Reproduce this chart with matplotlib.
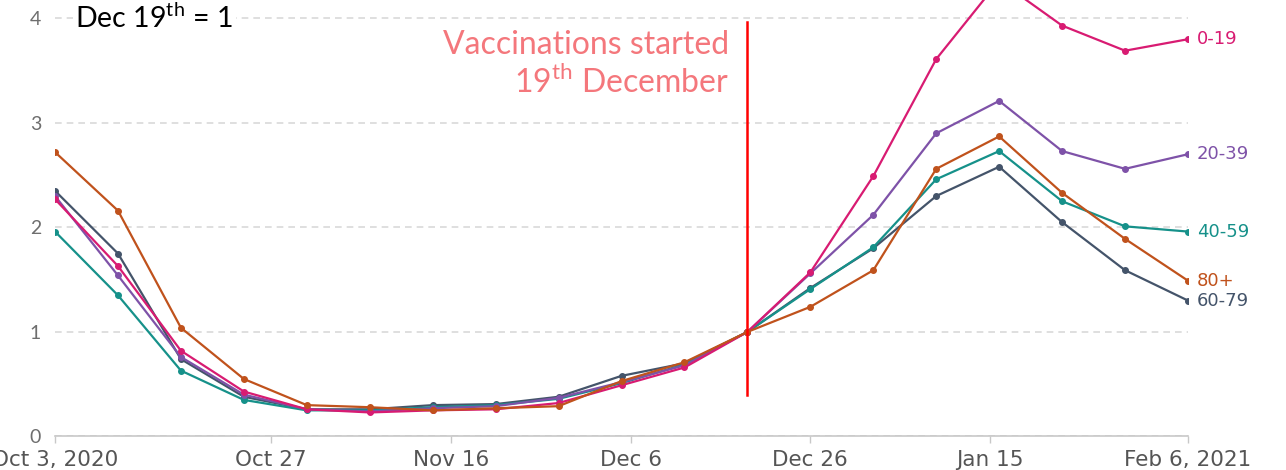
import matplotlib
matplotlib.use("Agg")
import matplotlib.pyplot as plt
import pandas as pd

plt.rcParams['font.family'] = ['Lato', 'DejaVu Sans']
plt.rcParams['mathtext.fontset'] = 'custom'
plt.rcParams['mathtext.rm'] = 'Lato'

# weekly relative cases, Dec 19th = 1
dates = pd.date_range("2020-10-03", "2021-02-06", freq="7D")

age_0_19 = [2.27, 1.63, 0.82, 0.43, 0.26, 0.23, 0.25, 0.26, 0.32, 0.49, 0.66, 1.0,
            1.57, 2.49, 3.61, 4.36, 3.93, 3.69, 3.80]
age_20_39 = [2.30, 1.54, 0.76, 0.40, 0.26, 0.24, 0.27, 0.29, 0.37, 0.52, 0.68, 1.0,
             1.56, 2.12, 2.90, 3.21, 2.73, 2.56, 2.70]
age_40_59 = [1.96, 1.35, 0.63, 0.35, 0.25, 0.25, 0.28, 0.30, 0.36, 0.51, 0.69, 1.0,
             1.41, 1.81, 2.46, 2.73, 2.25, 2.01, 1.96]
age_60_79 = [2.35, 1.75, 0.74, 0.38, 0.26, 0.26, 0.30, 0.31, 0.38, 0.58, 0.70, 1.0,
             1.42, 1.80, 2.30, 2.58, 2.05, 1.59, 1.30]
age_80 = [2.72, 2.16, 1.04, 0.55, 0.30, 0.28, 0.25, 0.27, 0.29, 0.53, 0.71, 1.0,
          1.24, 1.59, 2.56, 2.87, 2.33, 1.89, 1.49]

tick_dates = pd.to_datetime(["2020-10-03", "2020-10-27", "2020-11-16", "2020-12-06",
                             "2020-12-26", "2021-01-15", "2021-02-06"])
tick_labels = ["Oct 3, 2020", "Oct 27", "Nov 16", "Dec 6", "Dec 26", "Jan 15", "Feb 6, 2021"]
vacc_date = pd.Timestamp("2020-12-19")

series = [
    ("60-79", age_60_79, "#44546a"),
    ("40-59", age_40_59, "#16918a"),
    ("20-39", age_20_39, "#7e52a8"),
    ("0-19", age_0_19, "#d81b72"),
    ("80+", age_80, "#c0521c"),
]

fig = plt.figure(figsize=(12.86, 4.70), dpi=100)
ax = fig.add_axes([0.0428, 0.0713, 0.881, 0.9287])

for name, vals, col in series:
    ax.plot(dates, vals, color=col, lw=1.6, marker='o', ms=4, zorder=3)
    ax.text(dates[-1] + pd.Timedelta(days=1), vals[-1], name, color=col,
            fontsize=13, va='center', ha='left', clip_on=False, family='DejaVu Sans')

ax.plot([vacc_date, vacc_date], [0.40, 3.96], color='#ff0000', lw=1.8, zorder=4)

ax.set_xlim(dates[0], dates[-1])
ax.set_ylim(0, 4.175)
ax.set_xticks(tick_dates)
ax.set_xticklabels(tick_labels, family='DejaVu Sans')
ax.set_yticks([0, 1, 2, 3, 4])
ax.grid(axis='y', color='#d9d9d9', ls=(0, (4, 3)), lw=1.2)
ax.set_axisbelow(True)

for s in ['top', 'right', 'left']:
    ax.spines[s].set_visible(False)
ax.spines['bottom'].set_color('#c8c8c8')
ax.spines['bottom'].set_linewidth(1.2)
ax.tick_params(axis='x', colors='#c8c8c8', length=5, width=1, labelsize=15.5,
               labelcolor='#555555', pad=5)
ax.tick_params(axis='y', length=0, labelsize=14, labelcolor='#6e6e6e', pad=10)

ax.text(0.018, 4.0, r"Dec 19$^{\mathrm{th}}$ = 1", fontsize=20.5, color='black',
        va='center', ha='left', transform=ax.get_yaxis_transform(),
        bbox=dict(facecolor='white', edgecolor='none', pad=2))
ax.text(vacc_date - pd.Timedelta(days=2), 3.74, "Vaccinations started",
        fontsize=23, color='#f4777c', ha='right', va='center')
ax.text(vacc_date - pd.Timedelta(days=2), 3.39, r"19$^{\mathrm{th}}$ December",
        fontsize=23, color='#f4777c', ha='right', va='center')

fig.savefig("out.png", dpi=100)
